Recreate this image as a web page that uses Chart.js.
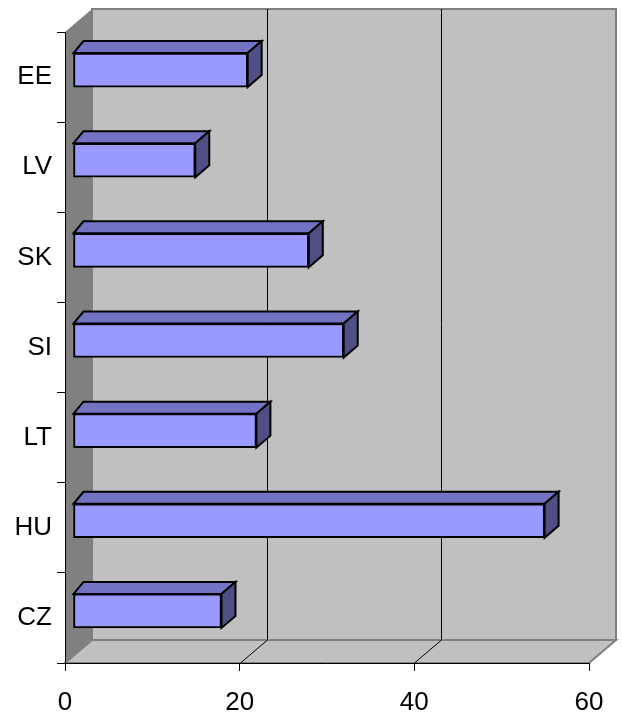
<!DOCTYPE html>
<html>
<head>
<meta charset="utf-8">
<script src="https://cdn.jsdelivr.net/npm/chart.js@4.4.1/dist/chart.umd.min.js"></script>
<style>
  body { margin: 0; background: #fff; }
  #wrap { width: 622px; height: 716px; }
</style>
</head>
<body>
<div id="wrap"><canvas id="barChart" width="622" height="716"></canvas></div>
<script>
// categories, values, value axis ticks
const countries = ['EE', 'LV', 'SK', 'SI', 'LT', 'HU', 'CZ'];
const values = [20, 14, 27, 31, 21, 54, 17];
const xTicks = [0, 20, 40, 60];

const FONT = "'Liberation Sans Narrow', 'Liberation Sans', Arial, sans-serif";

// depth of the 3D box and where the bars sit in it
const WALL_DX = 27, WALL_DY = -23;
const BAR_DX = 8, BAR_DY = -7;
const FACE_DX = 14, FACE_DY = -12;

const walls3d = {
    id: 'walls3d',
    beforeDraw(chart) {
        const ctx = chart.ctx;
        const a = chart.chartArea;
        const xs = chart.scales.x;
        ctx.save();
        // back wall
        ctx.fillStyle = '#c0c0c0';
        ctx.fillRect(a.left + WALL_DX, a.top + WALL_DY, a.right - a.left, a.bottom - a.top);
        ctx.strokeStyle = '#808080';
        ctx.lineWidth = 2;
        ctx.strokeRect(a.left + WALL_DX, a.top + WALL_DY, a.right - a.left, a.bottom - a.top);
        // floor
        ctx.beginPath();
        ctx.moveTo(a.left, a.bottom);
        ctx.lineTo(a.left + WALL_DX, a.bottom + WALL_DY);
        ctx.lineTo(a.right + WALL_DX, a.bottom + WALL_DY);
        ctx.lineTo(a.right, a.bottom);
        ctx.closePath();
        ctx.fillStyle = '#c0c0c0';
        ctx.fill();
        ctx.stroke();
        // left wall
        ctx.beginPath();
        ctx.moveTo(a.left, a.top);
        ctx.lineTo(a.left + WALL_DX, a.top + WALL_DY);
        ctx.lineTo(a.left + WALL_DX, a.bottom + WALL_DY);
        ctx.lineTo(a.left, a.bottom);
        ctx.closePath();
        ctx.fillStyle = '#808080';
        ctx.fill();
        // gridlines on the back wall and across the floor
        ctx.strokeStyle = '#000';
        ctx.lineWidth = 1;
        xTicks.slice(1, -1).forEach(v => {
            const px = Math.round(xs.getPixelForValue(v)) + 0.5;
            ctx.beginPath();
            ctx.moveTo(px + WALL_DX, a.top + WALL_DY);
            ctx.lineTo(px + WALL_DX, a.bottom + WALL_DY);
            ctx.moveTo(px, a.bottom);
            ctx.lineTo(px + WALL_DX, a.bottom + WALL_DY);
            ctx.stroke();
        });
        ctx.restore();
    },
    beforeDatasetsDraw(chart) {
        chart.ctx.save();
        chart.ctx.translate(BAR_DX, BAR_DY);
    },
    afterDatasetsDraw(chart) {
        const ctx = chart.ctx;
        const meta = chart.getDatasetMeta(0);
        ctx.lineWidth = 2;
        ctx.strokeStyle = '#000';
        ctx.lineJoin = 'miter';
        meta.data.forEach(bar => {
            const p = bar.getProps(['x', 'y', 'base', 'height'], true);
            const top = p.y - p.height / 2, bottom = p.y + p.height / 2;
            const left = p.base, right = p.x;
            // top face
            ctx.beginPath();
            ctx.moveTo(left, top);
            ctx.lineTo(right, top);
            ctx.lineTo(right + FACE_DX, top + FACE_DY);
            ctx.lineTo(left + 10, top + FACE_DY);
            ctx.closePath();
            ctx.fillStyle = '#7373c4';
            ctx.fill();
            ctx.stroke();
            // side face
            ctx.beginPath();
            ctx.moveTo(right, top);
            ctx.lineTo(right + FACE_DX, top + FACE_DY);
            ctx.lineTo(right + FACE_DX, bottom + FACE_DY);
            ctx.lineTo(right, bottom);
            ctx.closePath();
            ctx.fillStyle = '#4f4f86';
            ctx.fill();
            ctx.stroke();
        });
        ctx.restore();
    }
};

const ctx = document.getElementById('barChart').getContext('2d');
const barChart = new Chart(ctx, {
    type: 'bar',
    data: {
        labels: countries,
        datasets: [{
            data: values,
            backgroundColor: '#9999ff',
            borderColor: '#000',
            borderWidth: 2,
            borderSkipped: false,
            barThickness: 34,
            clip: false
        }]
    },
    options: {
        indexAxis: 'y',
        responsive: false,
        animation: false,
        layout: { padding: { top: 32, right: 33, left: 0, bottom: 0 } },
        plugins: {
            legend: { display: false },
            tooltip: { enabled: false }
        },
        scales: {
            x: {
                min: 0,
                max: 60,
                afterFit(scale) { scale.height = 53; },
                afterBuildTicks(scale) { scale.ticks = xTicks.map(v => ({ value: v })); },
                ticks: { color: '#000', font: { family: FONT, size: 26 }, padding: 16 },
                grid: { drawOnChartArea: false, tickLength: 8, color: '#000' },
                border: { color: '#000', width: 1 }
            },
            y: {
                afterFit(scale) { scale.width = 65; },
                ticks: { color: '#000', font: { family: FONT, size: 26 }, padding: 5 },
                grid: { drawOnChartArea: false, tickLength: 8, color: '#000', offset: true },
                border: { color: '#000', width: 1 }
            }
        }
    },
    plugins: [walls3d]
});
</script>
</body>
</html>
